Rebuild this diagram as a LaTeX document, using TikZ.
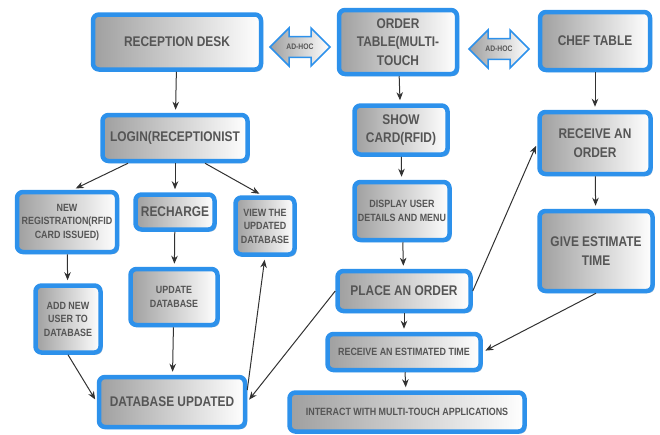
\documentclass[tikz,border=0pt]{standalone}
\usepackage{fontspec}
\newfontfamily\boxfont[FakeStretch=0.85]{Liberation Sans}
\usetikzlibrary{arrows.meta,shapes.arrows,shadows}
\definecolor{boxblue}{RGB}{45,145,235}
\definecolor{boxtext}{RGB}{85,85,85}
\definecolor{arrowgray}{RGB}{50,50,50}
\tikzset{
>={Stealth[length=8pt,width=6.5pt,inset=2.5pt]},
main node/.style={draw=boxblue,line width=4.5pt,rounded corners=6pt,
  left color=gray!75,right color=white,text=boxtext,align=center,inner sep=2pt,
  font=\boxfont\bfseries\fontsize{14}{18.5}\selectfont,
  drop shadow={shadow xshift=2pt,shadow yshift=-2pt,fill=boxblue!70!black,opacity=.5}},
small node/.style={main node,font=\boxfont\bfseries\fontsize{10.5}{13.5}\selectfont},
adhoc/.style={double arrow,double arrow head extend=8pt,draw=boxblue,line width=1.5pt,
  left color=gray!75,right color=white,text=boxtext,inner xsep=2pt,inner ysep=6pt,
  font=\boxfont\bfseries\fontsize{8}{9}\selectfont},
freccia/.style={->,shorten >=3pt,line width=1pt,color=arrowgray}}

\begin{document}
\begin{tikzpicture}[x=1pt,y=-1pt]

\useasboundingbox (0,0) rectangle (660,434);

% left column: reception
\node[main node,minimum width=168,minimum height=55] (rec) at (177,42) {RECEPTION DESK};
\node[main node,minimum width=145,minimum height=46] (login) at (175,138) {LOGIN(RECEPTIONIST};
\node[small node,minimum width=100,minimum height=60] (newreg) at (67,222) {NEW\\REGISTRATION(RFID\\CARD ISSUED)};
\node[main node,minimum width=79,minimum height=35] (recharge) at (175,212) {RECHARGE};
\node[small node,minimum width=59,minimum height=57] (view) at (265,226) {VIEW THE\\UPDATED\\DATABASE};
\node[small node,minimum width=65,minimum height=67] (addnew) at (68,319) {ADD NEW\\USER TO\\DATABASE};
\node[small node,minimum width=87,minimum height=56] (upddb) at (174,297) {UPDATE\\DATABASE};
\node[main node,minimum width=146,minimum height=50] (dbupd) at (172,402) {DATABASE UPDATED};

% middle column: order table
\node[main node,minimum width=118,minimum height=64] (order) at (398,42) {ORDER\\TABLE(MULTI-\\TOUCH};
\node[main node,minimum width=93,minimum height=49] (show) at (401,130) {SHOW\\CARD(RFID)};
\node[small node,minimum width=95,minimum height=58] (display) at (402,211) {DISPLAY USER\\DETAILS AND MENU};
\node[main node,minimum width=133,minimum height=40] (place) at (404,291) {PLACE AN ORDER};
\node[small node,minimum width=153,minimum height=36] (recest) at (404,352) {RECEIVE AN ESTIMATED TIME};
\node[small node,minimum width=235,minimum height=39] (interact) at (407,412) {INTERACT WITH MULTI-TOUCH APPLICATIONS};

% right column: chef
\node[main node,minimum width=110,minimum height=58] (chef) at (595,41) {CHEF TABLE};
\node[main node,minimum width=111,minimum height=62] (recorder) at (595,143) {RECEIVE AN\\ORDER};
\node[main node,minimum width=113,minimum height=80] (give) at (596,251) {GIVE ESTIMATE\\TIME};

% ad-hoc links
\node[adhoc,minimum height=60,minimum width=38] (adhoc1) at (300,47) {AD-HOC};
\node[adhoc,minimum height=60,minimum width=38] (adhoc2) at (499,49) {AD-HOC};

\path[freccia] (rec) edge (login);
\path[freccia] ([xshift=-47pt]login.south) edge ([xshift=6pt]newreg.north);
\path[freccia] (login) edge (recharge);
\path[freccia] ([xshift=30pt]login.south) edge ([xshift=-3pt]view.north);
\path[freccia] (newreg) edge (addnew);
\path[freccia] (recharge) edge (upddb);
\path[freccia] (upddb) edge (dbupd);
\path[freccia] (addnew.south) edge (dbupd.west);
\path[freccia] ([yshift=12pt]dbupd.east) edge (view.south);
\path[freccia] (place.west) edge (dbupd.east);

\path[freccia] (order) edge (show);
\path[freccia] (show) edge (display);
\path[freccia] (display) edge (place);
\path[freccia] (place) edge (recest);
\path[freccia] (recest) edge (interact);
\path[freccia] (place.east) edge (recorder.west);

\path[freccia] (chef) edge (recorder);
\path[freccia] (recorder) edge (give);
\path[freccia] (give.south) edge (recest.east);

\end{tikzpicture}
\end{document}
